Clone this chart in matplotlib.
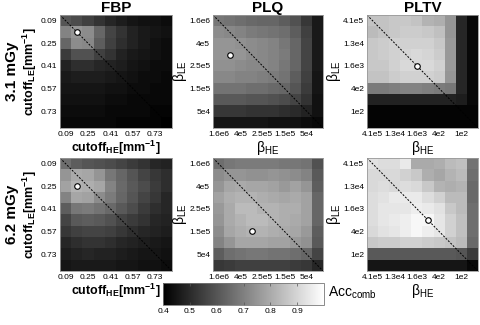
import numpy as np
import matplotlib
matplotlib.use("Agg")
import matplotlib.pyplot as plt

plt.rcParams['font.family'] = ['Liberation Sans', 'DejaVu Sans']
plt.rcParams['mathtext.fontset'] = 'custom'
plt.rcParams['mathtext.rm'] = 'Liberation Sans'
plt.rcParams['mathtext.bf'] = 'Liberation Sans:bold'
plt.rcParams['mathtext.it'] = 'Liberation Sans:italic'

# ---------------- data ----------------
methods = ['FBP', 'PLQ', 'PLTV']
doses = ['3.1 mGy', '6.2 mGy']

cutoff_ticks = ['0.09', '0.25', '0.41', '0.57', '0.73']
plq_ticks = ['1.6e6', '4e5', '2.5e5', '1.5e5', '5e4']
pltv_ticks = ['4.1e5', '1.3e4', '1.6e3', '4e2', '1e2']

# rows = LE parameter (top->bottom), cols = HE parameter (left->right)
fbp_31 = [
    [0.60, 0.58, 0.55, 0.52, 0.49, 0.47, 0.45, 0.44, 0.44, 0.43],
    [0.71, 0.75, 0.73, 0.64, 0.56, 0.52, 0.48, 0.46, 0.45, 0.44],
    [0.64, 0.73, 0.72, 0.62, 0.55, 0.51, 0.48, 0.46, 0.44, 0.43],
    [0.54, 0.59, 0.59, 0.55, 0.52, 0.48, 0.46, 0.45, 0.44, 0.43],
    [0.48, 0.51, 0.51, 0.49, 0.48, 0.47, 0.45, 0.44, 0.43, 0.43],
    [0.46, 0.47, 0.47, 0.47, 0.46, 0.45, 0.44, 0.43, 0.43, 0.42],
    [0.45, 0.45, 0.45, 0.45, 0.44, 0.44, 0.43, 0.43, 0.42, 0.42],
    [0.44, 0.44, 0.44, 0.44, 0.43, 0.43, 0.42, 0.42, 0.42, 0.42],
    [0.43, 0.43, 0.43, 0.43, 0.42, 0.42, 0.42, 0.42, 0.41, 0.41],
    [0.42, 0.42, 0.42, 0.42, 0.42, 0.41, 0.41, 0.41, 0.41, 0.40],
]
plq_31 = [
    [0.68, 0.67, 0.66, 0.65, 0.64, 0.64, 0.62, 0.59, 0.53, 0.46],
    [0.73, 0.72, 0.71, 0.69, 0.68, 0.67, 0.66, 0.62, 0.55, 0.46],
    [0.75, 0.75, 0.74, 0.73, 0.72, 0.71, 0.68, 0.64, 0.56, 0.46],
    [0.75, 0.75, 0.75, 0.73, 0.72, 0.71, 0.69, 0.64, 0.56, 0.46],
    [0.74, 0.74, 0.73, 0.72, 0.72, 0.71, 0.68, 0.64, 0.56, 0.46],
    [0.72, 0.72, 0.71, 0.71, 0.70, 0.69, 0.67, 0.62, 0.55, 0.45],
    [0.67, 0.67, 0.67, 0.66, 0.66, 0.65, 0.64, 0.60, 0.54, 0.45],
    [0.61, 0.61, 0.61, 0.60, 0.60, 0.59, 0.58, 0.56, 0.52, 0.44],
    [0.53, 0.53, 0.53, 0.52, 0.52, 0.52, 0.51, 0.50, 0.48, 0.44],
    [0.45, 0.45, 0.45, 0.45, 0.45, 0.44, 0.44, 0.44, 0.43, 0.42],
]
pltv_31 = [
    [0.86, 0.86, 0.87, 0.87, 0.86, 0.82, 0.81, 0.75, 0.49, 0.42],
    [0.84, 0.86, 0.87, 0.88, 0.88, 0.87, 0.85, 0.75, 0.49, 0.42],
    [0.87, 0.88, 0.89, 0.89, 0.89, 0.89, 0.87, 0.76, 0.49, 0.42],
    [0.87, 0.88, 0.89, 0.90, 0.91, 0.90, 0.88, 0.76, 0.49, 0.42],
    [0.87, 0.87, 0.89, 0.91, 0.91, 0.91, 0.89, 0.76, 0.49, 0.42],
    [0.86, 0.86, 0.88, 0.89, 0.89, 0.89, 0.88, 0.75, 0.49, 0.42],
    [0.69, 0.69, 0.70, 0.71, 0.71, 0.70, 0.69, 0.68, 0.49, 0.42],
    [0.48, 0.48, 0.48, 0.48, 0.48, 0.48, 0.48, 0.48, 0.47, 0.42],
    [0.41, 0.41, 0.41, 0.41, 0.41, 0.41, 0.41, 0.41, 0.41, 0.41],
    [0.41, 0.41, 0.41, 0.41, 0.41, 0.41, 0.41, 0.41, 0.41, 0.41],
]
fbp_62 = [
    [0.66, 0.62, 0.60, 0.59, 0.58, 0.56, 0.54, 0.52, 0.49, 0.48],
    [0.75, 0.80, 0.79, 0.75, 0.68, 0.64, 0.60, 0.56, 0.53, 0.51],
    [0.78, 0.82, 0.81, 0.79, 0.71, 0.65, 0.61, 0.58, 0.54, 0.51],
    [0.71, 0.79, 0.78, 0.73, 0.69, 0.64, 0.60, 0.56, 0.53, 0.49],
    [0.62, 0.68, 0.69, 0.67, 0.65, 0.61, 0.58, 0.54, 0.51, 0.49],
    [0.56, 0.61, 0.62, 0.61, 0.59, 0.56, 0.54, 0.52, 0.49, 0.48],
    [0.53, 0.55, 0.56, 0.56, 0.55, 0.53, 0.51, 0.49, 0.48, 0.47],
    [0.49, 0.51, 0.52, 0.52, 0.51, 0.49, 0.48, 0.47, 0.46, 0.45],
    [0.47, 0.48, 0.49, 0.48, 0.48, 0.47, 0.46, 0.45, 0.45, 0.44],
    [0.45, 0.46, 0.46, 0.46, 0.46, 0.45, 0.45, 0.44, 0.44, 0.43],
]
plq_62 = [
    [0.66, 0.68, 0.69, 0.69, 0.69, 0.69, 0.68, 0.68, 0.67, 0.59],
    [0.73, 0.75, 0.75, 0.74, 0.74, 0.75, 0.74, 0.73, 0.71, 0.61],
    [0.75, 0.79, 0.80, 0.79, 0.79, 0.78, 0.76, 0.78, 0.75, 0.62],
    [0.78, 0.81, 0.82, 0.82, 0.81, 0.80, 0.79, 0.80, 0.78, 0.64],
    [0.76, 0.80, 0.84, 0.84, 0.82, 0.82, 0.81, 0.81, 0.78, 0.64],
    [0.75, 0.80, 0.82, 0.84, 0.84, 0.82, 0.81, 0.80, 0.78, 0.64],
    [0.73, 0.79, 0.81, 0.82, 0.82, 0.81, 0.80, 0.79, 0.76, 0.62],
    [0.71, 0.75, 0.79, 0.79, 0.79, 0.78, 0.78, 0.76, 0.74, 0.61],
    [0.62, 0.66, 0.67, 0.68, 0.68, 0.67, 0.67, 0.66, 0.64, 0.56],
    [0.53, 0.54, 0.55, 0.55, 0.55, 0.55, 0.55, 0.54, 0.53, 0.49],
]
pltv_62 = [
    [0.93, 0.92, 0.92, 0.95, 0.80, 0.80, 0.81, 0.84, 0.85, 0.67],
    [0.91, 0.91, 0.91, 0.89, 0.87, 0.81, 0.79, 0.82, 0.84, 0.66],
    [0.91, 0.92, 0.91, 0.92, 0.91, 0.87, 0.82, 0.81, 0.82, 0.65],
    [0.92, 0.93, 0.95, 0.95, 0.95, 0.92, 0.89, 0.84, 0.84, 0.65],
    [0.92, 0.94, 0.94, 0.94, 0.96, 0.95, 0.93, 0.87, 0.84, 0.66],
    [0.92, 0.94, 0.95, 0.96, 0.98, 0.98, 0.94, 0.89, 0.85, 0.66],
    [0.91, 0.93, 0.94, 0.96, 0.98, 0.96, 0.94, 0.89, 0.85, 0.66],
    [0.87, 0.88, 0.88, 0.89, 0.89, 0.88, 0.87, 0.86, 0.84, 0.65],
    [0.61, 0.61, 0.61, 0.61, 0.61, 0.61, 0.61, 0.61, 0.60, 0.54],
    [0.45, 0.45, 0.45, 0.45, 0.45, 0.45, 0.45, 0.45, 0.45, 0.42],
]

# optimum (HE index, LE index) marked by a circle
best_31 = [(1, 1), (1, 3), (4, 4)]
best_62 = [(1, 2), (3, 6), (5, 5)]

grids = [[fbp_31, plq_31, pltv_31], [fbp_62, plq_62, pltv_62]]
bests = [best_31, best_62]
tick_labels = [cutoff_ticks, plq_ticks, pltv_ticks]
tick_pos = [0, 2, 4, 6, 8]

xlabels = [r'cutoff$_{\mathbf{HE}}$[mm$^{\mathbf{-1}}$]', r'β$_{\rm HE}$', r'β$_{\rm HE}$']
ylabels = [r'cutoff$_{\mathbf{LE}}$[mm$^{\mathbf{-1}}$]', r'β$_{\rm LE}$', r'β$_{\rm LE}$']

# ---------------- figure ----------------
fig = plt.figure(figsize=(4.8, 3.25), dpi=100)

lefts = [60 / 480, 213 / 480, 367 / 480]
widths = [112 / 480, 110 / 480, 111 / 480]
bottoms = [1 - 128 / 325, 1 - 271 / 325]
height = 113 / 325

for r in range(2):
    for c in range(3):
        ax = fig.add_axes([lefts[c], bottoms[r], widths[c], height])
        data = np.array(grids[r][c])
        im = ax.imshow(data, cmap='gray', vmin=0.4, vmax=1.0,
                       aspect='auto', interpolation='nearest')
        n = data.shape[0]
        ax.plot([-0.5, n - 0.5], [-0.5, n - 0.5], color='black',
                linestyle=(0, (2, 1.5)), linewidth=0.7)
        bx, by = bests[r][c]
        ax.plot(bx, by, 'o', markersize=4, markerfacecolor='white',
                markeredgecolor='black', markeredgewidth=0.8)
        ax.set_xlim(-0.5, n - 0.5)
        ax.set_ylim(n - 0.5, -0.5)
        ax.set_xticks(tick_pos)
        ax.set_yticks(tick_pos)
        ax.set_xticklabels(tick_labels[c], fontsize=6)
        ax.set_yticklabels(tick_labels[c], fontsize=6)
        ax.tick_params(length=0, pad=2)
        for s in ax.spines.values():
            s.set_color('#999999')
            s.set_linewidth(0.6)
        if c == 0:
            ax.set_xlabel(xlabels[c], fontsize=9, fontweight='bold', labelpad=1)
            ax.set_ylabel(ylabels[c], fontsize=9, fontweight='bold', labelpad=1)
        else:
            ax.set_xlabel(xlabels[c], fontsize=10, labelpad=1)
            ax.set_ylabel(ylabels[c], fontsize=10, labelpad=0)
        if r == 0:
            ax.set_title(methods[c], fontsize=11, fontweight='bold', pad=2)

for r, d in enumerate(doses):
    yc = bottoms[r] + height / 2
    fig.text(12 / 480, yc, d, rotation=90, ha='center', va='center',
             fontsize=11, fontweight='bold')

cax = fig.add_axes([163 / 480, 1 - 305 / 325, 161 / 480, 22 / 325])
cb = fig.colorbar(im, cax=cax, orientation='horizontal')
cb.set_ticks([0.4, 0.5, 0.6, 0.7, 0.8, 0.9])
cb.ax.tick_params(labelsize=6, length=2, direction='in', pad=2, width=0.5,
                  top=True, color='#555555')
cb.outline.set_edgecolor('#777777')
cb.outline.set_linewidth(0.6)
fig.text(328 / 480, 1 - 293 / 325, r'Acc$_{\rm comb}$', fontsize=10,
         ha='left', va='center')

fig.savefig('out.png', dpi=100)
